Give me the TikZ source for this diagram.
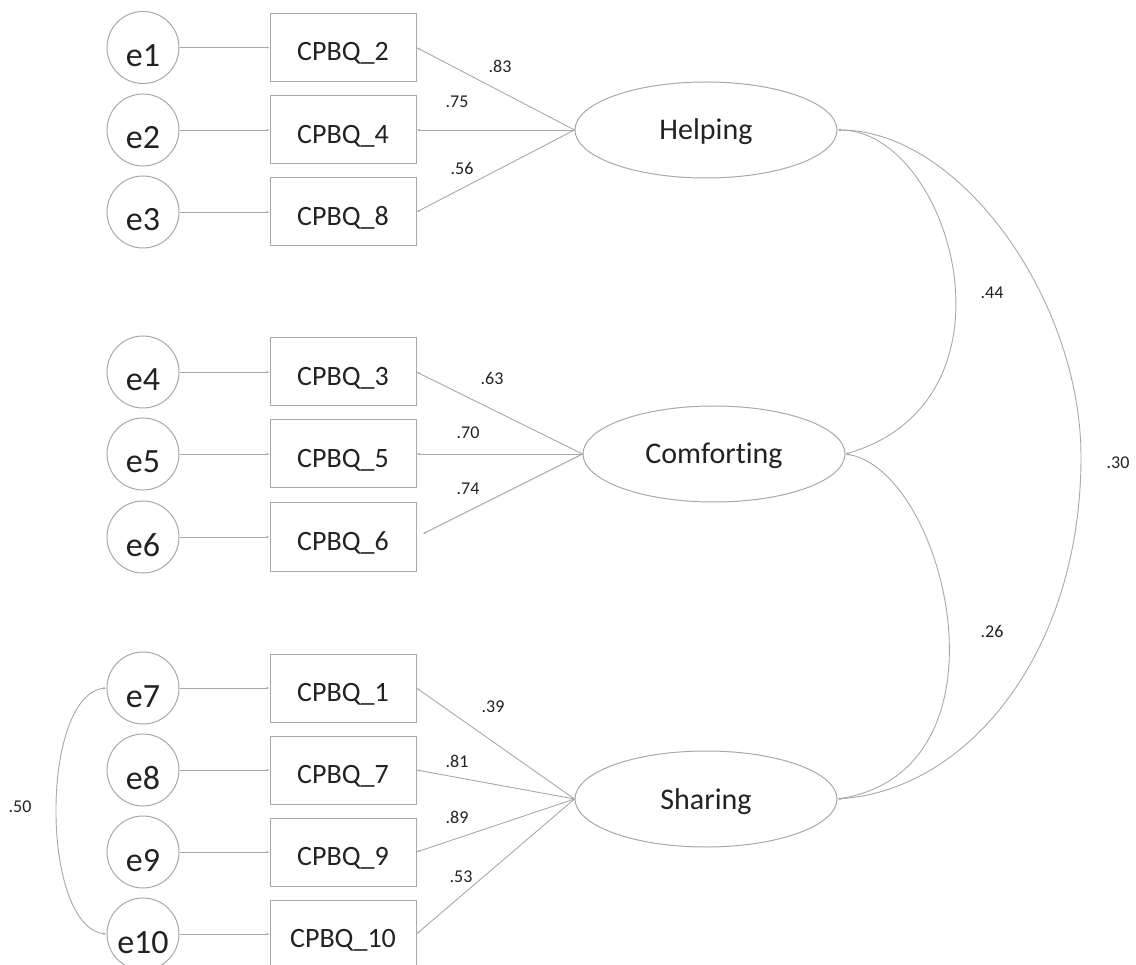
\documentclass[tikz,border=0pt]{standalone}
\usepackage{fontspec}
\setmainfont{Carlito}[Ligatures=NoCommon]
\usetikzlibrary{arrows.meta,shapes.geometric}
\definecolor{edge}{HTML}{A8A8A8}
\definecolor{ink}{HTML}{222222}
\begin{document}
\begin{tikzpicture}[x=1pt,y=-1pt,
  err/.style={circle,draw=edge,line width=1pt,minimum size=72pt,inner sep=0pt,
    font=\fontsize{34}{34}\selectfont,text=ink,text height=38pt,text depth=0pt},
  item/.style={rectangle,draw=edge,line width=1pt,minimum width=146pt,minimum height=68pt,
    inner sep=0pt,font=\fontsize{28}{28}\selectfont,text=ink,text height=27pt,text depth=0pt},
  latent/.style={ellipse,draw=edge,line width=1pt,minimum width=262pt,minimum height=96pt,
    inner sep=0pt,font=\fontsize{30}{30}\selectfont,text=ink,text height=20pt,text depth=0pt},
  tip/.tip={Latex[length=3pt,width=2.4pt]},
  link/.style={draw=edge,line width=0.9pt,-tip},
  cov/.style={draw=edge,line width=0.9pt,tip-tip},
  coef/.style={font=\fontsize{18}{18}\selectfont,text=ink,inner sep=0pt}]
\useasboundingbox (0,0) rectangle (1136,965);

% error terms
\node[err] (e1)  at (143,47.5) {e1};
\node[err] (e2)  at (143,130)  {e2};
\node[err] (e3)  at (143,212)  {e3};
\node[err] (e4)  at (143,372)  {e4};
\node[err] (e5)  at (143,454)  {e5};
\node[err] (e6)  at (143,537)  {e6};
\node[err] (e7)  at (143,688)  {e7};
\node[err] (e8)  at (143,770)  {e8};
\node[err] (e9)  at (143,852)  {e9};
\node[err] (e10) at (143,934)  {e10};

% observed items
\node[item] (q2)  at (343,47.5) {CPBQ\_2};
\node[item] (q4)  at (343,130)  {CPBQ\_4};
\node[item] (q8)  at (343,212)  {CPBQ\_8};
\node[item] (q3)  at (343,372)  {CPBQ\_3};
\node[item] (q5)  at (343,454)  {CPBQ\_5};
\node[item] (q6)  at (343,537)  {CPBQ\_6};
\node[item] (q1)  at (343,688)  {CPBQ\_1};
\node[item] (q7)  at (343,770)  {CPBQ\_7};
\node[item] (q9)  at (343,852)  {CPBQ\_9};
\node[item] (q10) at (343,934)  {CPBQ\_10};

% latent factors
\node[latent] (help)  at (706,130) {Helping};
\node[latent] (comf)  at (714,454) {Comforting};
\node[latent] (share) at (706,799) {Sharing};

% error paths
\foreach \e/\q in {e1/q2,e2/q4,e3/q8,e4/q3,e5/q5,e6/q6,e7/q1,e8/q7,e9/q9,e10/q10}
  \draw[link] (\e) -- (\q);

% factor loadings
\draw[link] (help.west) -- (q2.east);
\draw[link] (help.west) -- (q4.east);
\draw[link] (help.west) -- (q8.east);
\draw[link] (comf.west) -- (q3.east);
\draw[link] (comf.west) -- (q5.east);
\draw[link,shorten >=7pt] (comf.west) -- (q6.east);
\draw[link] (share.west) -- (q1.east);
\draw[link] (share.west) -- (q7.east);
\draw[link] (share.west) -- (q9.east);
\draw[link] (share.west) -- (q10.east);

\node[coef] (l83) at (500,66)  {.83};
\node[coef] (l75) at (457,102) {.75};
\node[coef] (l56) at (462,168) {.56};
\node[coef] (l63) at (492,378) {.63};
\node[coef] (l70) at (468,433) {.70};
\node[coef] (l74) at (468,489) {.74};
\node[coef] (l39) at (493,707) {.39};
\node[coef] (l81) at (457,761) {.81};
\node[coef] (l89) at (457,817) {.89};
\node[coef] (l53) at (461,877) {.53};

% factor covariances
\draw[cov] (help.east) .. controls (950,130) and (1030,400) .. (comf.east);
\draw[cov] (comf.east) .. controls (945,470) and (1020,770) .. (share.east);
\draw[cov] (help.east) .. controls (960,130) and (1081,300) .. (1081,457)
  .. controls (1081,650) and (970,790) .. (share.east);
\node[coef] (c44) at (992,293)  {.44};
\node[coef] (c26) at (992,631)  {.26};
\node[coef] (c30) at (1118,463) {.30};

% residual covariance
\draw[cov] (e7.west) .. controls (40,695) and (40,926) .. (e10.west);
\node[coef] (c50) at (20,807) {.50};
\end{tikzpicture}
\end{document}
